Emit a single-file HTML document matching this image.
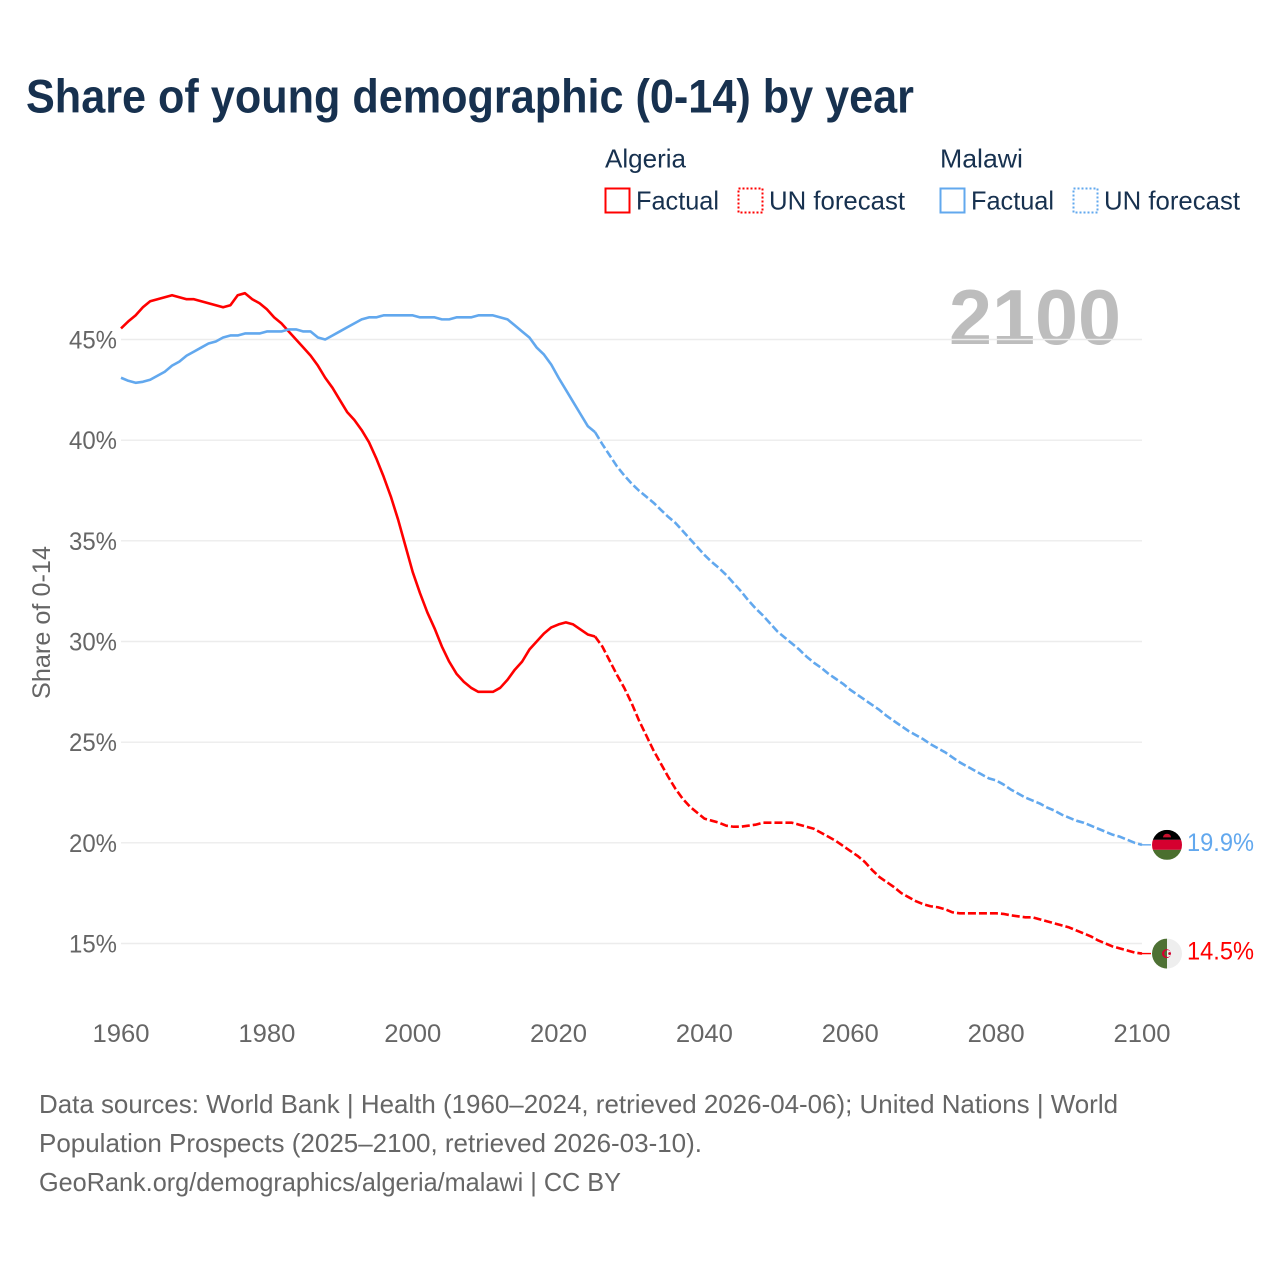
<!DOCTYPE html>
<html lang="en">
<head>
<meta charset="utf-8">
<title>Share of young demographic (0-14) by year</title>
<style>
html,body{margin:0;padding:0;background:#fff;}
svg{display:block;font-family:"Liberation Sans",Arial,sans-serif;}
</style>
</head>
<body>
<svg id="chart" xmlns="http://www.w3.org/2000/svg" width="1280" height="1280" viewBox="0 0 1280 1280">
  <defs>
    <linearGradient id="crescent-inner" gradientUnits="userSpaceOnUse" x1="-1" y1="0" x2="1" y2="0">
      <stop offset="0.5" stop-color="#4e7134"/>
      <stop offset="0.5" stop-color="#eeeeee"/>
    </linearGradient>
  </defs>
  <rect width="1280" height="1280" fill="#ffffff"/>
  <text x="26" y="112.5" font-size="47" font-weight="700" fill="#17314f" textLength="888" lengthAdjust="spacingAndGlyphs">Share of young demographic (0-14) by year</text>

  <g font-size="26" fill="#17314f">
    <text x="605" y="167.5" textLength="81" lengthAdjust="spacingAndGlyphs">Algeria</text>
    <rect x="605.5" y="188.5" width="24" height="24" fill="none" stroke="#ff0000" stroke-width="2"/>
    <text x="636" y="209.5" textLength="83" lengthAdjust="spacingAndGlyphs">Factual</text>
    <rect x="738.5" y="188.5" width="24" height="24" fill="none" stroke="#ff0000" stroke-width="2" stroke-dasharray="2 2"/>
    <text x="769" y="209.5" textLength="136" lengthAdjust="spacingAndGlyphs">UN forecast</text>
    <text x="940" y="167.5" textLength="83" lengthAdjust="spacingAndGlyphs">Malawi</text>
    <rect x="940.5" y="188.5" width="24" height="24" fill="none" stroke="#62a8ee" stroke-width="2"/>
    <text x="971" y="209.5" textLength="83" lengthAdjust="spacingAndGlyphs">Factual</text>
    <rect x="1073.5" y="188.5" width="24" height="24" fill="none" stroke="#62a8ee" stroke-width="2" stroke-dasharray="2 2"/>
    <text x="1104" y="209.5" textLength="136" lengthAdjust="spacingAndGlyphs">UN forecast</text>
  </g>

  <text x="949" y="344" font-size="78" font-weight="700" fill="#bdbdbd" textLength="172" lengthAdjust="spacingAndGlyphs">2100</text>
  <text transform="translate(50 699) rotate(-90)" font-size="25" fill="#666666" textLength="153" lengthAdjust="spacingAndGlyphs">Share of 0-14</text>

  <g id="grid"></g>
  <g id="y-ticks"></g>
  <g id="x-ticks"></g>
  <g id="series"></g>

  <g id="flag-malawi">
    <clipPath id="clip-malawi"><circle cx="0" cy="0" r="15"/></clipPath>
    <g clip-path="url(#clip-malawi)">
      <rect x="-15" y="-15" width="30" height="10" fill="#000000"/>
      <rect x="-15" y="-5" width="30" height="10" fill="#d5002f"/>
      <rect x="-15" y="5" width="30" height="10" fill="#4a6f2e"/>
      <path d="M-5 -5 A5 4.5 0 0 1 5 -5 Z" transform="translate(0 -3.5) scale(0.8)" fill="#c8102e"/>
    </g>
  </g>
  <g id="flag-algeria">
    <clipPath id="clip-algeria"><circle cx="0" cy="0" r="15"/></clipPath>
    <g clip-path="url(#clip-algeria)">
      <rect x="-15" y="-15" width="15" height="30" fill="#4e7134"/>
      <rect x="0" y="-15" width="15" height="30" fill="#eeeeee"/>
      <circle cx="-0.5" cy="0" r="4.5" fill="#d5002f"/>
      <circle cx="0.7" cy="0" r="3.4" fill="url(#crescent-inner)"/>
      <circle cx="2.6" cy="0" r="1.4" fill="#d5002f"/>
    </g>
  </g>
  <text id="label-malawi" x="1187" font-size="25" fill="#62a8ee" textLength="67" lengthAdjust="spacingAndGlyphs"></text>
  <text id="label-algeria" x="1187" font-size="25" fill="#ff0000" textLength="67" lengthAdjust="spacingAndGlyphs"></text>

  <g font-size="26" fill="#666666">
    <text x="39" y="1113" textLength="1079" lengthAdjust="spacingAndGlyphs">Data sources: World Bank | Health (1960–2024, retrieved 2026-04-06); United Nations | World</text>
    <text x="39" y="1152" textLength="663" lengthAdjust="spacingAndGlyphs">Population Prospects (2025–2100, retrieved 2026-03-10).</text>
    <text x="39" y="1191" textLength="582" lengthAdjust="spacingAndGlyphs">GeoRank.org/demographics/algeria/malawi | CC BY</text>
  </g>
</svg>

<script>
const factualStartYear = 1960;
const forecastStartYear = 2025;
const xTickYears = [1960, 1980, 2000, 2020, 2040, 2060, 2080, 2100];
const yTickValues = [45, 40, 35, 30, 25, 20, 15];
const algeriaEndLabel = "14.5%";
const malawiEndLabel = "19.9%";

const algeriaFactual = [
  45.55,45.9,46.2,46.6,46.9,
  47.0,47.1,47.2,47.1,47.0,
  47.0,46.9,46.8,46.7,46.6,
  46.7,47.2,47.3,47.0,46.8,
  46.5,46.1,45.8,45.4,45.0,
  44.6,44.2,43.7,43.1,42.6,
  42.0,41.4,41.0,40.5,39.9,
  39.1,38.2,37.2,36.05,34.75,
  33.45,32.4,31.45,30.65,29.75,
  29.0,28.4,28.0,27.7,27.5,
  27.5,27.5,27.7,28.1,28.6,
  29.0,29.6,30.0,30.4,30.7,
  30.85,30.95,30.85,30.6,30.35,
  30.25
];
const algeriaForecast = [
  30.25,29.75,29.05,28.35,27.7,
  26.95,26.1,25.35,24.6,23.95,
  23.3,22.7,22.2,21.8,21.5,
  21.2,21.1,21.0,20.85,20.8,
  20.8,20.85,20.9,21.0,21.0,
  21.0,21.0,21.0,20.9,20.8,
  20.7,20.5,20.3,20.1,19.85,
  19.6,19.35,19.05,18.65,18.3,
  18.05,17.8,17.5,17.3,17.1,
  16.95,16.85,16.8,16.7,16.55,
  16.5,16.5,16.5,16.5,16.5,
  16.5,16.47,16.4,16.35,16.3,
  16.3,16.2,16.1,16.0,15.9,
  15.8,15.65,15.5,15.35,15.15,
  15.0,14.85,14.75,14.65,14.55,
  14.5
];
const malawiFactual = [
  43.1,42.95,42.85,42.9,43.0,
  43.2,43.4,43.7,43.9,44.2,
  44.4,44.6,44.8,44.9,45.1,
  45.2,45.2,45.3,45.3,45.3,
  45.4,45.4,45.4,45.5,45.5,
  45.4,45.4,45.1,45.0,45.2,
  45.4,45.6,45.8,46.0,46.1,
  46.1,46.2,46.2,46.2,46.2,
  46.2,46.1,46.1,46.1,46.0,
  46.0,46.1,46.1,46.1,46.2,
  46.2,46.2,46.1,46.0,45.7,
  45.4,45.1,44.6,44.25,43.75,
  43.1,42.5,41.9,41.3,40.7,
  40.4
];
const malawiForecast = [
  40.4,39.8,39.25,38.7,38.25,
  37.85,37.5,37.2,36.9,36.55,
  36.2,35.9,35.5,35.1,34.7,
  34.3,33.95,33.65,33.3,32.9,
  32.5,32.05,31.65,31.3,30.9,
  30.5,30.2,29.9,29.6,29.25,
  28.95,28.7,28.4,28.15,27.9,
  27.6,27.35,27.1,26.85,26.6,
  26.3,26.05,25.8,25.55,25.35,
  25.15,24.9,24.7,24.5,24.25,
  24.0,23.8,23.6,23.4,23.2,
  23.1,22.9,22.65,22.45,22.25,
  22.1,21.95,21.75,21.6,21.4,
  21.25,21.1,21.0,20.85,20.7,
  20.55,20.4,20.3,20.15,20.0,
  19.9
];

const NS = "http://www.w3.org/2000/svg";
const xScale = year => 121 + (year - 1960) * (1142 - 121) / 140;
const yScale = value => 339.5 + (45 - value) * (943.5 - 339.5) / 30;

function svgEl(tag, parent) {
  const el = document.createElementNS(NS, tag);
  parent.appendChild(el);
  return el;
}

const gridGroup = document.getElementById("grid");
const yTickGroup = document.getElementById("y-ticks");
const xTickGroup = document.getElementById("x-ticks");
const seriesGroup = document.getElementById("series");

yTickValues.forEach(v => {
  const line = svgEl("line", gridGroup);
  
  
  line.setAttribute("x1", xScale(1960));
  line.setAttribute("x2", xScale(2100));
  line.setAttribute("y1", yScale(v));
  line.setAttribute("y2", yScale(v));
  line.setAttribute("stroke", "#ececec");
  line.setAttribute("stroke-width", "1.4");

  const label = svgEl("text", yTickGroup);
  
  
  label.setAttribute("x", 117);
  label.setAttribute("y", yScale(v) + 9);
  label.setAttribute("text-anchor", "end");
  label.setAttribute("font-size", "25");
  label.setAttribute("fill", "#666666");
  label.setAttribute("textLength", "48");
  label.setAttribute("lengthAdjust", "spacingAndGlyphs");
  label.textContent = v + "%";
});

xTickYears.forEach(y => {
  const label = svgEl("text", xTickGroup);
  
  
  label.setAttribute("x", xScale(y));
  label.setAttribute("y", 1042);
  label.setAttribute("text-anchor", "middle");
  label.setAttribute("font-size", "25");
  label.setAttribute("fill", "#666666");
  label.setAttribute("textLength", "57");
  label.setAttribute("lengthAdjust", "spacingAndGlyphs");
  label.textContent = y;
});

function pointsFor(values, startYear) {
  return values.map((v, i) => xScale(startYear + i).toFixed(2) + "," + yScale(v).toFixed(2)).join(" ");
}

function drawLine(values, startYear, color, dash) {
  const line = svgEl("polyline", seriesGroup);
  line.setAttribute("points", pointsFor(values, startYear));
  line.setAttribute("fill", "none");
  line.setAttribute("stroke", color);
  line.setAttribute("stroke-width", "2.6");
  line.setAttribute("stroke-linejoin", "round");
  if (dash) line.setAttribute("stroke-dasharray", dash);
  return line;
}

function drawConnector(value, color) {
  const line = svgEl("line", seriesGroup);
  line.setAttribute("x1", xScale(2100));
  line.setAttribute("x2", xScale(2100) + 9);
  line.setAttribute("y1", yScale(value));
  line.setAttribute("y2", yScale(value));
  line.setAttribute("stroke", color);
  line.setAttribute("stroke-width", "1.4");
  return line;
}

const algeriaFactualLine = drawLine(algeriaFactual, factualStartYear, "#ff0000");



const algeriaForecastLine = drawLine(algeriaForecast, forecastStartYear, "#ff0000", "8 3");



const malawiFactualLine = drawLine(malawiFactual, factualStartYear, "#62a8ee");



const malawiForecastLine = drawLine(malawiForecast, forecastStartYear, "#62a8ee", "8 3");



const algeriaLast = algeriaForecast[algeriaForecast.length - 1];
const malawiLast = malawiForecast[malawiForecast.length - 1];

const algeriaConnector = drawConnector(algeriaLast, "#ff0000");



const malawiConnector = drawConnector(malawiLast, "#62a8ee");



document.getElementById("flag-algeria").setAttribute("transform", "translate(1167 " + yScale(algeriaLast) + ")");
document.getElementById("flag-malawi").setAttribute("transform", "translate(1167 " + yScale(malawiLast) + ")");

const algeriaLabel = document.getElementById("label-algeria");
algeriaLabel.setAttribute("y", yScale(algeriaLast) + 6);
algeriaLabel.textContent = algeriaEndLabel;

const malawiLabel = document.getElementById("label-malawi");
malawiLabel.setAttribute("y", yScale(malawiLast) + 6);
malawiLabel.textContent = malawiEndLabel;
</script>
</body>
</html>
